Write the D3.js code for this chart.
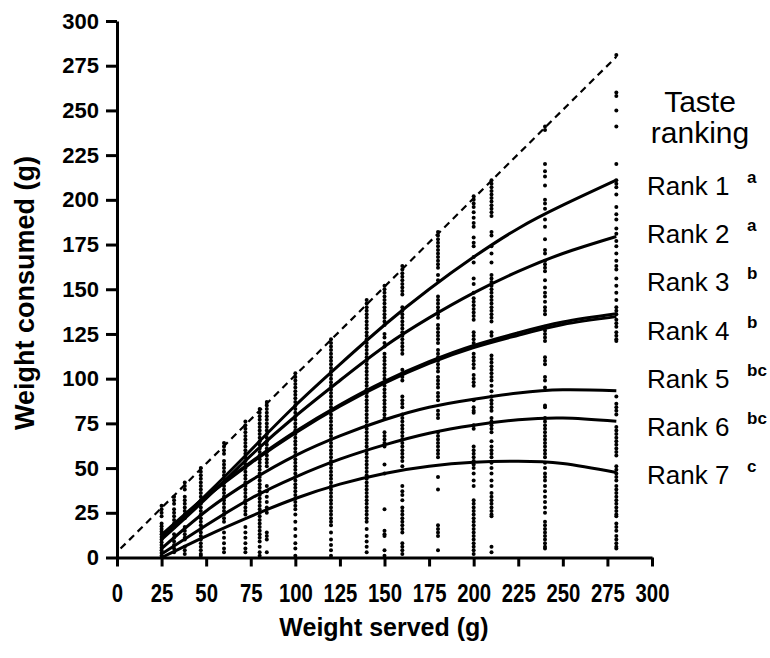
<!DOCTYPE html>
<html>
<head>
<meta charset="utf-8">
<script src="https://cdn.jsdelivr.net/npm/d3@7"></script>
<style>
body { margin: 0; background: #fff; }
svg { display: block; }
</style>
</head>
<body>
<div id="chart"></div>
<script>
// axis ticks (g)
const tickValues = [0, 25, 50, 75, 100, 125, 150, 175, 200, 225, 250, 275, 300];

// fitted curves, sampled at these served weights
const curveX = [25, 50, 75, 100, 125, 150, 175, 200, 225, 250, 280];
const rank1 = [11, 35, 60, 85, 108, 130, 150, 168, 184, 197, 211];
const rank2 = [10, 33, 57, 79, 99, 118, 134, 148, 160, 170, 179.5];
const rank3 = [12.7, 34.3, 53.3, 70.4, 85.4, 98.5, 109.5, 118.6, 125.7, 131.7, 136.3];
const rank4 = [12.3, 33.7, 52.7, 69.6, 84.6, 97.5, 108.5, 117.4, 124.3, 130.3, 134.7];
const rank5 = [5, 26, 43, 57, 68, 77, 84, 88.5, 92, 93.8, 93.3];
const rank6 = [2, 18, 33, 45, 55, 63, 69.5, 74, 77, 78, 76.2];
const rank7 = [0, 12, 23, 33, 41, 47, 51, 53.2, 53.8, 52.5, 47.5];

const rankNames = ["Rank 1", "Rank 2", "Rank 3", "Rank 4", "Rank 5", "Rank 6", "Rank 7"];
const rankLetters = ["a", "a", "b", "b", "bc", "bc", "c"];

// dashed line of complete consumption
const refLine = [[2, 5], [280, 280]];

// individual observations: consumed weight per served weight
const c25 = [29, 27, 25, 23, 19, 17.5, 16, 14.5, 13, 11.5, 10, 8.5, 7, 5.5, 4, 2.5, 1];
const c32 = [34, 32, 30, 27, 25, 23, 21, 19, 17, 13, 11, 9, 7, 5, 3];
const c38 = [42, 40, 38, 34, 32, 30, 28, 26, 24, 22, 17, 15, 13, 11, 10, 6, 4, 2];
const c47 = [50, 48, 46, 44, 42, 40, 38, 36, 34, 32, 30, 28, 26, 24, 22, 20, 18, 16, 14, 12, 10, 8, 6, 4, 2, 1];
const c60 = [64, 62, 60, 58, 54, 52, 50, 48, 46, 44, 42, 40, 38, 36, 34, 32, 30, 28, 26, 24, 22, 20, 14, 11, 8, 5, 3];
const c72 = [76, 74, 72, 70, 68, 66, 64, 62, 60, 58, 56, 54, 52, 50, 48, 46, 44, 42, 40, 38, 36, 34, 32, 30, 28, 26, 24, 17, 14, 11, 8, 5, 3];
const c80 = [83, 81, 79, 77, 75, 73, 71, 69, 67, 65, 63, 61, 59, 57, 55, 53, 51, 49, 47, 45, 43, 41, 39, 37, 35, 33, 31, 29, 27, 25, 23, 21, 19, 17, 15, 13, 11, 9, 6, 3, 1];
const c84 = [87, 85, 83, 81, 79, 77, 75, 73, 71, 69, 67, 65, 63, 61, 59, 57, 55, 53, 51, 40, 37, 34, 31, 28, 25, 14, 12, 10, 3];
const c100 = [103, 101, 99, 97, 95, 93, 91, 89, 87, 85, 83, 81, 79, 77, 75, 73, 71, 69, 67, 65, 63, 61, 59, 57, 55, 53, 51, 49, 47, 45, 43, 41, 39, 37, 35, 33, 31, 29, 27, 24, 20, 16, 12, 8, 5, 1];
const c120 = [122, 120, 118, 116, 114, 112, 110, 108, 106, 104, 102, 100, 98, 96, 94, 92, 90, 88, 86, 84, 82, 80, 78, 76, 74, 72, 70, 68, 66, 64, 62, 60, 58, 56, 54, 52, 50, 48, 46, 44, 42, 40, 38, 36, 34, 32, 30, 28, 26, 24, 22, 20, 18, 14, 10, 7, 4, 1];
const c140 = [144, 142, 140, 138, 136, 134, 132, 130, 128, 126, 124, 122, 120, 118, 116, 114, 112, 110, 108, 106, 104, 102, 100, 98, 96, 94, 92, 90, 88, 86, 84, 82, 80, 78, 76, 74, 72, 70, 68, 66, 64, 62, 60, 58, 56, 54, 52, 50, 48, 46, 44, 42, 40, 38, 36, 34, 32, 30, 28, 26, 24, 22, 20, 16, 12, 9, 6, 3];
const c150 = [152, 150, 148, 146, 144, 142, 140, 138, 136, 134, 132, 130, 125, 123, 120, 118, 114, 112, 110, 108, 106, 104, 102, 100, 98, 96, 94, 92, 90, 88, 86, 84, 82, 80, 78, 70, 68, 66, 64, 62, 52, 47, 27, 15, 13, 12, 4, 1];
const c160 = [163, 161, 159, 157, 155, 153, 151, 149, 147, 140, 138, 136, 134, 132, 130, 128, 126, 124, 122, 120, 118, 116, 114, 105, 103, 101, 99, 90, 88, 86, 84, 80, 78, 76, 74, 72, 70, 68, 66, 64, 62, 60, 58, 56, 54, 51, 40, 37, 35, 32, 28, 26, 24, 22, 20, 18, 16, 14, 8, 6, 4, 2];
const c180 = [182, 180, 178, 176, 174, 172, 170, 168, 166, 164, 162, 158, 155, 146, 144, 142, 140, 138, 136, 134, 130, 128, 126, 124, 122, 120, 116, 114, 112, 110, 108, 106, 104, 101, 99, 97, 95, 92, 90, 88, 82, 80, 78, 70, 68, 66, 64, 62, 60, 58, 56, 45, 38, 18, 16, 14, 12, 4];
const c200 = [202, 200, 198, 196, 193, 190, 187, 185, 179, 176, 174, 168, 165, 156, 153, 148, 145, 143, 141, 139, 137, 135, 133, 126, 124, 122, 120, 118, 114, 112, 110, 108, 106, 102, 100, 98, 96, 88, 84, 82, 81, 74, 72, 62, 60, 58, 56, 54, 52, 50, 47, 43, 40, 32, 30, 28, 26, 24, 22, 20, 18, 16, 14, 12, 10, 8, 6, 4, 2];
const c210 = [211, 209, 207, 205, 203, 201, 199, 197, 195, 193, 191, 182, 180, 174, 170, 165, 158, 156, 154, 152, 150, 148, 146, 144, 142, 140, 138, 136, 134, 132, 126, 124, 113, 111, 109, 107, 105, 103, 101, 99, 96, 93, 90, 88, 86, 84, 82, 78, 76, 74, 72, 70, 65, 62, 60, 58, 56, 53, 50, 47, 43, 40, 36, 34, 32, 30, 28, 26, 24, 23, 6, 3];
const c240 = [241, 239, 220, 216, 213, 208, 200, 198, 195, 189, 185, 178, 172, 170, 166, 164, 162, 160, 155, 151, 148, 146, 143, 140, 138, 136, 129, 127, 125, 123, 121, 112, 110, 108, 101, 99, 95, 85, 84, 78, 76, 74, 72, 70, 68, 66, 64, 62, 60, 58, 56, 53, 50, 47, 45, 43, 40, 37, 34, 31, 28, 25, 20, 18, 16, 14, 12, 10, 8, 6, 5];
const c280 = [281, 260, 258, 250, 241, 220, 211, 209, 207, 203, 196, 192, 189, 184, 181, 177, 174, 170, 166, 163, 161, 156, 152, 148, 144, 140, 138, 136, 133, 131, 129, 126, 124, 122, 121, 90, 86, 84, 82, 80, 73, 71, 69, 67, 65, 63, 61, 59, 57, 51, 49, 47, 45, 43, 40, 38, 36, 34, 32, 30, 28, 26, 24, 23, 19, 17, 15, 12, 10, 8, 6, 5];

const servedLevels = [25, 32, 38, 47, 60, 72, 80, 84, 100, 120, 140, 150, 160, 180, 200, 210, 240, 280];
const consumedLists = [c25, c32, c38, c47, c60, c72, c80, c84, c100, c120, c140, c150, c160, c180, c200, c210, c240, c280];

const width = 770, height = 658;

const svg = d3.select("#chart").append("svg")
    .attr("width", width)
    .attr("height", height);

const x = d3.scaleLinear().domain([0, 300]).range([117, 652]);
const y = d3.scaleLinear().domain([0, 300]).range([557.5, 21]);

// points
let dots = [];
servedLevels.forEach(function(s, i) {
    consumedLists[i].forEach(function(c) { dots.push([s, c]); });
});

svg.append("g")
    .selectAll("circle")
    .data(dots)
    .enter().append("circle")
    .attr("cx", d => x(d[0]))
    .attr("cy", d => y(d[1]))
    .attr("r", 2)
    .attr("fill", "#000");

// reference line
svg.append("path")
    .attr("d", d3.line().x(d => x(d[0])).y(d => y(d[1]))(refLine))
    .attr("fill", "none")
    .attr("stroke", "#000")
    .attr("stroke-width", 2.2)
    .attr("stroke-dasharray", "7,5");

// fitted curves
const line = d3.line()
    .x(d => x(d[0]))
    .y(d => y(d[1]))
    .curve(d3.curveNatural);

[rank1, rank2, rank3, rank4, rank5, rank6, rank7].forEach(function(r) {
    svg.append("path")
        .attr("d", line(curveX.map((v, i) => [v, r[i]])))
        .attr("fill", "none")
        .attr("stroke", "#000")
        .attr("stroke-width", 3);
});

// axes
const xAxis = svg.append("g")
    .attr("transform", "translate(0," + y(0) + ")")
    .call(d3.axisBottom(x).tickValues(tickValues).tickSize(9).tickSizeOuter(0));

const yAxis = svg.append("g")
    .attr("transform", "translate(" + x(0) + ",0)")
    .call(d3.axisLeft(y).tickValues(tickValues).tickSize(11).tickSizeOuter(0).tickPadding(7));

svg.selectAll(".domain, .tick line")
    .attr("stroke", "#000")
    .attr("stroke-width", 3);

// condensed bold numbers on the x axis
xAxis.selectAll("text")
    .attr("y", 44)
    .attr("dy", null)
    .attr("textLength", d => String(d).length * 11.3)
    .attr("lengthAdjust", "spacingAndGlyphs")
    .style("font-family", "'Liberation Sans', Arial, sans-serif")
    .style("font-weight", "bold")
    .style("font-size", "26px")
    .attr("fill", "#000");

yAxis.selectAll("text")
    .style("font-family", "'Liberation Sans', Arial, sans-serif")
    .style("font-weight", "bold")
    .style("font-size", "22px")
    .attr("fill", "#000");

// axis titles
svg.append("text")
    .attr("x", 384)
    .attr("y", 636)
    .attr("text-anchor", "middle")
    .style("font-family", "'Liberation Sans', Arial, sans-serif")
    .style("font-weight", "bold")
    .style("font-size", "25px")
    .text("Weight served (g)");

svg.append("text")
    .attr("transform", "translate(34,293) rotate(-90)")
    .attr("text-anchor", "middle")
    .style("font-family", "'Liberation Sans', Arial, sans-serif")
    .style("font-weight", "bold")
    .style("font-size", "27px")
    .text("Weight consumed (g)");

// legend
const legend = svg.append("g")
    .style("font-family", "'Liberation Sans', Arial, sans-serif");

legend.append("text")
    .attr("x", 700).attr("y", 112)
    .attr("text-anchor", "middle")
    .style("font-size", "30px")
    .text("Taste");
legend.append("text")
    .attr("x", 700).attr("y", 143)
    .attr("text-anchor", "middle")
    .style("font-size", "30px")
    .text("ranking");

rankNames.forEach(function(name, i) {
    let by = 195 + i * 48.2;
    legend.append("text")
        .attr("x", 647).attr("y", by)
        .style("font-size", "26px")
        .text(name);
    legend.append("text")
        .attr("x", 747).attr("y", by - 12)
        .style("font-size", "17px")
        .style("font-weight", "bold")
        .text(rankLetters[i]);
});
</script>
</body>
</html>
